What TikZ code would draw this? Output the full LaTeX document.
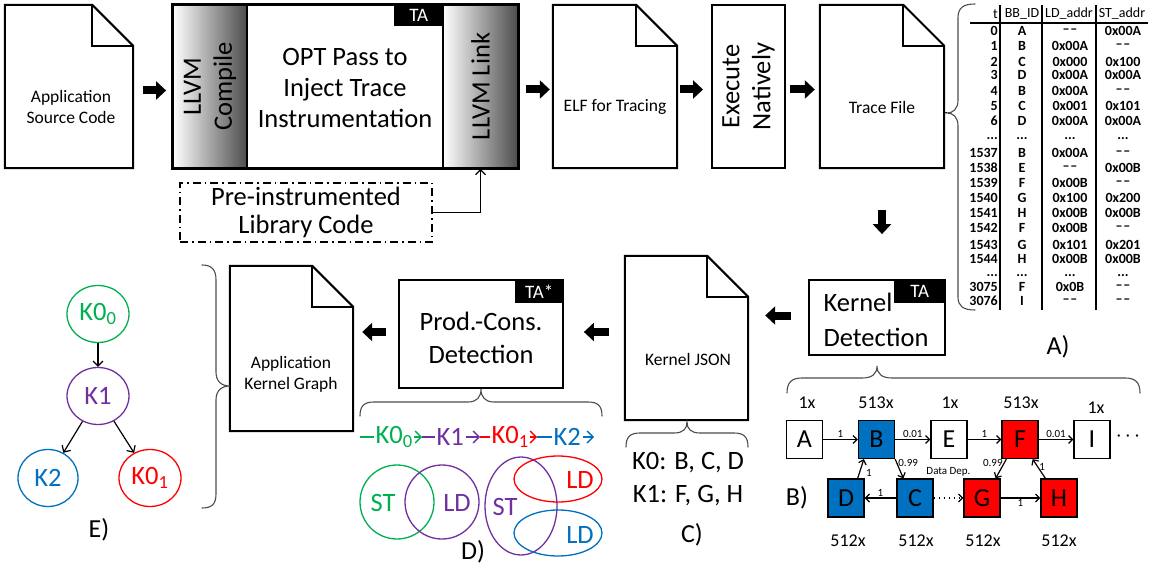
\documentclass[tikz,border=0pt]{standalone}
\usepackage{fontspec}
\setmainfont{Carlito}
\usetikzlibrary{arrows.meta,shapes.geometric,calc}
\definecolor{kgreen}{HTML}{00B050}
\definecolor{kpurple}{HTML}{7030A0}
\definecolor{kred}{HTML}{FF0000}
\definecolor{kblue}{HTML}{0070C0}
% page outline with a folded corner around a named node
\newcommand\docshape[1]{%
  \draw[docline] (#1.north west) -- ([xshift=-41pt]#1.north east) -- ([yshift=-41pt]#1.north east) -- (#1.south east) -- (#1.south west) -- cycle;
  \draw[docline] ([xshift=-41pt]#1.north east) |- ([yshift=-41pt]#1.north east);}
\newcommand\nd{\textendash\kern0.8pt\textendash}
\newcommand\tdots{...}
\begin{document}
\begin{tikzpicture}[x=1pt,y=-1pt,
  docbox/.style={rectangle,inner sep=0pt},
  docline/.style={line width=2pt,line join=miter},
  doctext/.style={align=center,inner sep=0pt,font=\fontsize{17.5}{21}\selectfont},
  bigtext/.style={align=center,inner sep=0pt,font=\fontsize{26.5}{31}\selectfont},
  stagebox/.style={draw,line width=1.8pt,inner sep=0pt},
  tag/.style={fill=black,text=white,inner sep=0pt,font=\fontsize{19}{19}\selectfont},
  blockarrow/.style={line width=8pt,-{Triangle[length=10pt,width=18pt]}},
  thinarrow/.style={line width=1.2pt,-{Straight Barb[length=5pt,width=10pt]}},
  brace/.style={line width=1.1pt,black!70,line cap=round},
  cell/.style={inner sep=0pt,font=\fontsize{14}{14}\selectfont\bfseries},
  hcell/.style={inner sep=0pt,font=\fontsize{14}{14}\selectfont},
  bnode/.style={draw,line width=1.3pt,minimum width=36pt,minimum height=38pt,inner sep=0pt,font=\fontsize{26}{26}\selectfont},
  cnt/.style={inner sep=0pt,font=\fontsize{18}{18}\selectfont},
  elab/.style={inner sep=1pt,font=\fontsize{11}{11}\selectfont},
  garrow/.style={line width=1.2pt,-{Straight Barb[length=4pt,width=8pt]}},
  treearrow/.style={line width=1.2pt,-{Straight Barb[length=5pt,width=10pt]}},
  enode/.style={ellipse,draw,line width=1.3pt,minimum width=62pt,minimum height=57pt,inner sep=0pt,font=\fontsize{26.5}{26.5}\selectfont},
  flow/.style={inner sep=1pt,font=\fontsize{26.5}{26.5}\selectfont},
  flowarrow/.style={line width=1.3pt,-{Straight Barb[length=6pt,width=12pt]}},
  venn/.style={line width=1.3pt},
  vtext/.style={inner sep=0pt,font=\fontsize{26.5}{26.5}\selectfont},
  panel/.style={inner sep=0pt,font=\fontsize{26}{26}\selectfont}
]
\useasboundingbox (0,0) rectangle (1151,564);

% ---------------- tracing pipeline ----------------
\node[docbox,minimum width=128pt,minimum height=163pt] (src) at (69,86.5) {};
\docshape{src}
\node[doctext] (srcT) at (71,107) {Application\\Source Code};

\node[stagebox,left color=white,right color=black!70,minimum width=74pt,minimum height=163pt] (compile) at (210,86.5) {};
\node[stagebox,fill=white,minimum width=196pt,minimum height=163pt] (opt) at (345,86.5) {};
\node[stagebox,left color=white,right color=black!70,minimum width=75pt,minimum height=163pt] (link) at (480.5,86.5) {};
\draw[line width=2pt] (compile.north west) rectangle (link.south east);
\node[bigtext,rotate=90] (compileT) at (compile.center) {LLVM\\Compile};
\node[bigtext] (optT) at (345,88) {OPT Pass to\\Inject Trace\\Instrumentation};
\node[bigtext,rotate=90] (linkT) at (link.center) {LLVM Link};
\node[tag,minimum width=50pt,minimum height=22pt,anchor=north east] (optTA) at (opt.north east) {TA};

\node[draw,line width=1.3pt,dash pattern=on 8pt off 4pt on 1.5pt off 4pt,minimum width=252pt,minimum height=59pt,inner sep=0pt,font=\fontsize{26.5}{28}\selectfont,align=center] (lib) at (306,212.5) {Pre-instrumented\\Library Code};

\node[docbox,minimum width=124pt,minimum height=163pt] (elf) at (615,86.5) {};
\docshape{elf}
\node[doctext] (elfT) at (615,107) {ELF for Tracing};

\node[stagebox,line width=2pt,minimum width=73pt,minimum height=163pt] (exec) at (748.5,86.5) {};
\node[bigtext,rotate=90] (execT) at (exec.center) {Execute\\Natively};

\node[docbox,minimum width=124pt,minimum height=163pt] (trace) at (882,86.5) {};
\docshape{trace}
\node[doctext] (traceT) at (882,107) {Trace File};

% ---------------- kernel analysis ----------------
\node[stagebox,minimum width=136pt,minimum height=75pt] (kd) at (877,317.5) {};
\node[bigtext,align=left,font=\fontsize{26.5}{35}\selectfont] (kdT) at (876,320) {Kernel\\Detection};
\node[tag,minimum width=52pt,minimum height=24pt,anchor=north east] (kdTA) at (kd.north east) {TA};

\node[docbox,minimum width=123pt,minimum height=164pt] (kjson) at (686.5,338) {};
\docshape{kjson}
\node[doctext] (kjsonT) at (688,359) {Kernel JSON};
\node[bigtext,font=\fontsize{26.5}{33}\selectfont] (kmap) at (688,479) {K0: B, C, D\\K1: F, G, H};

\node[stagebox,minimum width=164pt,minimum height=108pt] (prod) at (481,334) {};
\node[bigtext,font=\fontsize{26.5}{33}\selectfont] (prodT) at (481,338) {Prod.-Cons.\\Detection};
\node[tag,minimum width=49pt,minimum height=24pt,anchor=north east] (prodTA) at (prod.north east) {TA*};

\node[docbox,minimum width=123pt,minimum height=165pt] (akg) at (291.5,348.5) {};
\docshape{akg}
\node[doctext] (akgT) at (291,374) {Application\\Kernel Graph};

% ---------------- flow arrows ----------------
\draw[thinarrow] (lib.east) -| (link.south);
\draw[blockarrow] ($(src.east)+(10,4)$) -- ($(compile.west)+(-6,4)$);
\draw[blockarrow] ($(link.east)+(7,3)$) -- ($(elf.west)+(-3,3)$);
\draw[blockarrow] ($(elf.east)+(3,3)$) -- ($(exec.west)+(-8,3)$);
\draw[blockarrow] ($(exec.east)+(4,3)$) -- ($(trace.west)+(-5,3)$);
\draw[blockarrow] ($(trace.south)+(0,42)$) -- ($(trace.south |- kd.north)+(0,-45)$);
\draw[blockarrow] ($(kd.west)+(-17,-2)$) -- ($(kjson.east |- kd.west)+(17,-2)$);
\draw[blockarrow] ($(kjson.west |- prod.east)+(-16,-2)$) -- ($(prod.east)+(20,-2)$);
\draw[blockarrow] ($(prod.west)+(-12,-2)$) -- ($(akg.east |- prod.west)+(9,-2)$);

% ---------------- trace table ----------------
\coordinate (tabtip) at (947,113);
\draw[line width=1pt] (trace.east |- tabtip) -- (tabtip);
\draw[brace] (975,4) .. controls (963,4) and (958,8) .. (958,18) -- (958,100) .. controls (958,109) and (953,113) .. (tabtip) .. controls (953,113) and (958,117) .. (958,126) -- (958,297) .. controls (958,306) and (963,310) .. (975,310);
\draw[line width=1.6pt] (1000,5) -- (1000,310) (1042,5) -- (1042,310) (1096,5) -- (1096,310);
\draw[line width=1.4pt] (970,23) -- (1148,23);
\node[hcell,anchor=east] (ht) at (998,14) {t};
\node[hcell] (hb) at (1022,14) {BB\_ID};
\node[hcell] (hl) at (1069,14) {LD\_addr};
\node[hcell] (hs) at (1122,14) {ST\_addr};
\foreach \ry/\rt/\rb/\rl/\rs [count=\i] in {
  31/0/A/\nd/0x00A,
  46/1/B/0x00A/\nd,
  62/2/C/0x000/0x100,
  75/3/D/0x00A/0x00A,
  91/4/B/0x00A/\nd,
  106/5/C/0x001/0x101,
  121/6/D/0x00A/0x00A,
  139/\tdots/\tdots/\tdots/\tdots,
  153/1537/B/0x00A/\nd,
  168/1538/E/\nd/0x00B,
  183/1539/F/0x00B/\nd,
  198/1540/G/0x100/0x200,
  213/1541/H/0x00B/0x00B,
  228/1542/F/0x00B/\nd,
  245/1543/G/0x101/0x201,
  259/1544/H/0x00B/0x00B,
  276/\tdots/\tdots/\tdots/\tdots,
  287/3075/F/0x0B/\nd,
  301/3076/I/\nd/\nd}
{
  \node[cell,anchor=east] (rt\i) at (998,\ry) {\rt};
  \node[cell] (rb\i) at (1022,\ry) {\rb};
  \node[cell] (rl\i) at (1070,\ry) {\rl};
  \node[cell] (rs\i) at (1123,\ry) {\rs};
}
\node[panel] (labA) at (1058,347) {A)};

% ---------------- basic block graph ----------------
\draw[brace] (787,393) .. controls (787,382) and (792,378) .. (802,378) -- (862,378) .. controls (872,378) and (877,374) .. (877,366) .. controls (877,374) and (882,378) .. (892,378) -- (1125,378) .. controls (1135,378) and (1140,382) .. (1140,393);
\node[bnode] (A) at (804.5,439.5) {A};
\node[bnode,fill=kblue] (B) at (876.5,439.5) {B};
\node[bnode] (E) at (949,439.5) {E};
\node[bnode,fill=kred] (F) at (1020,439.5) {F};
\node[bnode] (I) at (1092,439.5) {I};
\node[bnode,fill=kblue] (D) at (846,498) {D};
\node[bnode,fill=kblue] (C) at (915,498) {C};
\node[bnode,fill=kred] (G) at (982,498) {G};
\node[bnode,fill=kred] (H) at (1059,498) {H};
\node[inner sep=0pt,font=\fontsize{16}{16}\selectfont] (more) at (1128,438) {·\hspace{5pt}·\hspace{5pt}·};

\node[cnt] (nA) at (807,403) {1x};
\node[cnt] (nB) at (876,403) {513x};
\node[cnt] (nE) at (950,403) {1x};
\node[cnt] (nF) at (1021,403) {513x};
\node[cnt] (nI) at (1096,408) {1x};
\node[cnt] (nD) at (848,541) {512x};
\node[cnt] (nC) at (916,541) {512x};
\node[cnt] (nG) at (983,541) {512x};
\node[cnt] (nH) at (1059,541) {512x};
\node[panel] (labB) at (797,498) {B)};

\draw[garrow] (A) -- node[elab,above] (lAB) {1} (B);
\draw[garrow] (B) -- node[elab,above] (lBE) {0.01} (E);
\draw[garrow] (E) -- node[elab,above] (lEF) {1} (F);
\draw[garrow] (F) -- node[elab,above] (lFI) {0.01} (I);
\draw[garrow] (B.south east) -- node[elab,pos=0.2,right] (lBC) {0.99} ([xshift=7pt]C.north west);
\draw[garrow] ([xshift=-7pt]D.north east) -- node[elab,pos=0.3,right=5pt] (lDB) {1} ([xshift=6pt]B.south west);
\draw[garrow] (C) -- node[elab,above] (lCD) {1} (D);
\draw[line width=1.2pt,dash pattern=on 1.5pt off 3.5pt,-{Straight Barb[length=4pt,width=8pt]}] (C) -- node[elab,above=20pt] (lCG) {Data Dep.} (G);
\draw[garrow] ([xshift=5pt]F.south west) -- node[elab,pos=0.2,left] (lFG) {0.99} ([xshift=-5pt]G.north east);
\draw[garrow] ([xshift=5pt]H.north west) -- node[elab,pos=0.6,right] (lHF) {1} ([xshift=-6pt]F.south east);
\draw[garrow] (G) -- node[elab,below] (lGH) {1} (H);

% ---------------- kernel list ----------------
\draw[brace] (626,447) .. controls (626,437) and (630,433) .. (640,433) -- (674,433) .. controls (683,433) and (687,429) .. (687,422) .. controls (687,429) and (691,433) .. (700,433) -- (734,433) .. controls (744,433) and (748,437) .. (748,447);
\node[panel] (labC) at (692,535) {C)};

% ---------------- producer / consumer ----------------
\draw[brace] (360,416) .. controls (360,406) and (364,402) .. (374,402) -- (468,402) .. controls (477,402) and (481,397) .. (481,389) .. controls (481,397) and (485,402) .. (494,402) -- (588,402) .. controls (598,402) and (602,406) .. (602,416);
\coordinate (f0) at (360,437);
\coordinate (f1) at (422,437);
\coordinate (f2) at (480,437);
\coordinate (f3) at (537,437);
\coordinate (f4) at (594,437);
\draw[kgreen,line width=1.3pt] (f0) -- ++(14,0) node[flow,anchor=west,text=kgreen] (fk0) {K0\textsubscript{0}};
\draw[kgreen,flowarrow] (fk0.east) -- (f1);
\draw[kpurple,line width=1.3pt] (f1) -- ++(13,0) node[flow,anchor=west,text=kpurple] (fk1) {K1};
\draw[kpurple,flowarrow] (fk1.east) -- (f2);
\draw[kred,line width=1.3pt] (f2) -- ++(10,0) node[flow,anchor=west,text=kred] (fk2) {K0\textsubscript{1}};
\draw[kred,flowarrow] (fk2.east) -- (f3);
\draw[kblue,line width=1.3pt] (f3) -- ++(15,0) node[flow,anchor=west,text=kblue] (fk3) {K2};
\draw[kblue,flowarrow] (fk3.east) -- (f4);

\draw[venn,kgreen] (397,502) circle[radius=37pt];
\draw[venn,kpurple] (442,502) circle[radius=37pt];
\draw[venn,kpurple] (521,506) ellipse[x radius=36pt,y radius=49pt];
\draw[venn,kred] (558,479) ellipse[x radius=44pt,y radius=23pt];
\draw[venn,kblue] (558,533) ellipse[x radius=44pt,y radius=23pt];
\node[vtext,text=kgreen] (v1) at (383,503) {ST};
\node[vtext,text=kpurple] (v2) at (457,503) {LD};
\node[vtext,text=kpurple] (v3) at (505,507) {ST};
\node[vtext,text=kred] (v4) at (580,480) {LD};
\node[vtext,text=kblue] (v5) at (580,535) {LD};
\node[panel] (labD) at (473,552) {D)};

% ---------------- kernel graph ----------------
\draw[brace] (202,265) .. controls (212,265) and (216,270) .. (216,280) -- (216,372) .. controls (216,381) and (221,386) .. (230,386) .. controls (221,386) and (216,391) .. (216,400) -- (216,494) .. controls (216,504) and (212,508) .. (202,508);
\node[enode,draw=kgreen,text=kgreen] (e0) at (98,314) {K0\textsubscript{0}};
\node[enode,draw=kpurple,text=kpurple] (e1) at (98,396) {K1};
\node[enode,draw=kblue,text=kblue,minimum width=60pt] (e2) at (48,478) {K2};
\node[enode,draw=kred,text=kred] (e3) at (150,478) {K0\textsubscript{1}};
\draw[treearrow] (e0) -- (e1);
\draw[treearrow] (e1) -- (e2);
\draw[treearrow] (e1) -- (e3);
\node[panel] (labE) at (99,530) {E)};
\end{tikzpicture}
\end{document}
